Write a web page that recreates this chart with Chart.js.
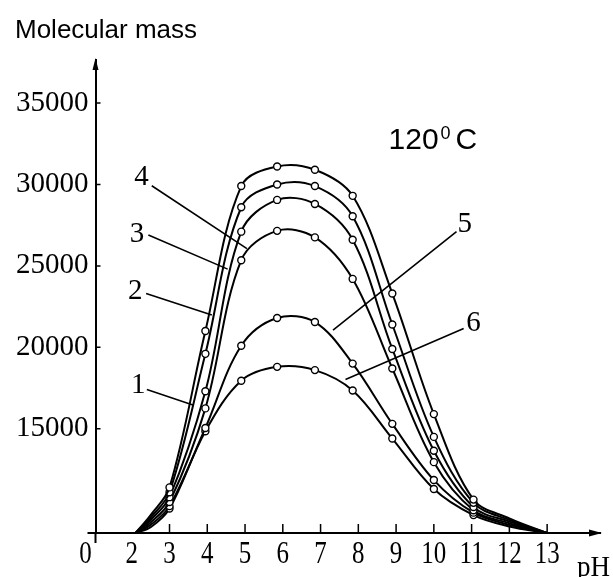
<!DOCTYPE html>
<html>
<head>
<meta charset="utf-8">
<script src="https://cdn.jsdelivr.net/npm/chart.js@4.4.1/dist/chart.umd.min.js"></script>
<style>
  html, body { margin: 0; padding: 0; background: #fff; }
  #wrap { width: 613px; height: 577px; }
</style>
</head>
<body>
<div id="wrap"><canvas id="myChart" width="613" height="577"></canvas></div>
<script>
// pH of each reading; the two first and two last are only the curve ends (no circle)
const phValues = [2.1, 2.5, 3, 3.95, 4.9, 5.85, 6.85, 7.85, 8.9, 10, 11.05, 12, 13];
const measured = [false, false, true, true, true, true, true, true, true, true, true, false, false];

// molecular mass, one array per curve
const curve1 = [8600, 9700, 11400, 21000, 29900, 31100, 30900, 29300, 23300, 15900, 10650, 9500, 8600];
const curve2 = [8600, 9550, 11100, 19600, 28600, 30000, 29900, 28050, 21400, 14500, 10450, 9400, 8600];
const curve3 = [8600, 9400, 10800, 17300, 27100, 29050, 28800, 26600, 19900, 13650, 10200, 9300, 8600];
const curve4 = [8600, 9250, 10500, 16250, 25350, 27150, 26750, 24200, 18700, 12950, 10000, 9200, 8600];
const curve5 = [8600, 9100, 10250, 15050, 20100, 21800, 21550, 19000, 15300, 11850, 9850, 9100, 8600];
const curve6 = [8600, 8950, 10100, 14850, 17950, 18800, 18600, 17350, 14400, 11300, 9700, 9000, 8600];

// axis ticks
const yTicks = [15000, 20000, 25000, 30000, 35000];
const xTicks = [2, 3, 4, 5, 6, 7, 8, 9, 10, 11, 12, 13];
const xTickMarks = [3, 4, 5, 6, 7, 8, 9, 10, 11, 12, 13];

// curve numbers and their leader lines (pH, mass)
const labelText = ['1', '2', '3', '4', '5', '6'];
const labelPh = [2.17, 2.09, 2.14, 2.26, 10.82, 11.05];
const labelVal = [17830, 23600, 27100, 30580, 27690, 21640];
const leaderFromPh = [2.40, 2.38, 2.44, 2.53, 10.60, 10.79];
const leaderFromVal = [17410, 23310, 26890, 29920, 27100, 21160];
const leaderToPh = [3.64, 4.12, 4.54, 5.05, 7.33, 7.66];
const leaderToVal = [16450, 21980, 24800, 26060, 21060, 18030];

const tempPh = 8.8;
const tempVal = 32175;

const allCurves = [curve1, curve2, curve3, curve4, curve5, curve6];

const datasets = allCurves.map((vals, i) => ({
    label: 'Curve ' + labelText[i],
    data: vals.map((v, j) => ({ x: phValues[j], y: v })),
    borderColor: '#000',
    borderWidth: 2,
    backgroundColor: '#fff',
    pointBackgroundColor: '#fff',
    pointBorderColor: '#000',
    pointBorderWidth: 1.4,
    pointRadius: c => measured[c.dataIndex] ? 3.5 : 0,
    tension: 0.35,
    fill: false,
    clip: false
}));

// Axis arrows, inner tick marks, condensed x labels and text notes
const decorations = {
    id: 'decorations',
    afterDraw(chart) {
        const { ctx, chartArea } = chart;
        const x = chart.scales.x, y = chart.scales.y;
        const ox = chartArea.left, oy = chartArea.bottom;
        ctx.save();
        ctx.strokeStyle = '#000';
        ctx.fillStyle = '#000';
        ctx.lineWidth = 2;

        ctx.beginPath();
        ctx.moveTo(ox - 8, oy); ctx.lineTo(ox, oy);
        ctx.moveTo(ox, oy); ctx.lineTo(ox, oy + 10);
        ctx.stroke();

        // arrow heads
        ctx.beginPath();
        ctx.moveTo(ox, chartArea.top - 2);
        ctx.lineTo(ox - 3, chartArea.top + 10);
        ctx.lineTo(ox + 3, chartArea.top + 10);
        ctx.closePath();
        ctx.fill();
        ctx.beginPath();
        ctx.moveTo(chartArea.right + 2, oy);
        ctx.lineTo(chartArea.right - 11, oy - 3.5);
        ctx.lineTo(chartArea.right - 11, oy + 3.5);
        ctx.closePath();
        ctx.fill();

        ctx.lineWidth = 1.5;
        ctx.beginPath();
        yTicks.forEach(v => {
            const py = y.getPixelForValue(v);
            ctx.moveTo(ox, py); ctx.lineTo(ox + 5, py);
        });
        xTickMarks.forEach(v => {
            const px = x.getPixelForValue(v);
            ctx.moveTo(px, oy); ctx.lineTo(px, oy - 9);
        });
        ctx.stroke();

        // x labels (tall, narrow digits like the scan)
        ctx.font = '32px "Liberation Serif"';
        ctx.textAlign = 'center';
        ctx.textBaseline = 'alphabetic';
        const condensed = (txt, px, py, sx) => {
            ctx.save();
            ctx.translate(px, py);
            ctx.scale(sx, 1);
            ctx.fillText(txt, 0, 0);
            ctx.restore();
        };
        xTicks.forEach(v => condensed(String(v), x.getPixelForValue(v), oy + 30, 0.78));
        condensed('0', ox - 10, oy + 30, 0.78);
        ctx.textAlign = 'left';
        ctx.font = '30px "Liberation Serif"';
        condensed('pH', chartArea.right - 23, oy + 43, 0.9);

        // leader lines
        ctx.lineWidth = 1.6;
        ctx.beginPath();
        labelText.forEach((t, i) => {
            ctx.moveTo(x.getPixelForValue(leaderFromPh[i]), y.getPixelForValue(leaderFromVal[i]));
            ctx.lineTo(x.getPixelForValue(leaderToPh[i]), y.getPixelForValue(leaderToVal[i]));
        });
        ctx.stroke();

        ctx.font = '29px "Liberation Serif"';
        ctx.textAlign = 'center';
        labelText.forEach((t, i) => {
            ctx.fillText(t, x.getPixelForValue(labelPh[i]), y.getPixelForValue(labelVal[i]) + 10);
        });

        // temperature note
        ctx.textAlign = 'left';
        let tx = x.getPixelForValue(tempPh);
        const ty = y.getPixelForValue(tempVal);
        ctx.font = '30px "Liberation Sans"';
        ctx.fillText('120', tx, ty);
        tx += ctx.measureText('120').width + 2;
        ctx.font = '18px "Liberation Sans"';
        ctx.fillText('0', tx, ty - 10);
        tx += ctx.measureText('0').width + 5;
        ctx.font = '30px "Liberation Sans"';
        ctx.fillText('C', tx, ty);

        // axis title
        ctx.font = '26px "Liberation Sans"';
        ctx.fillText('Molecular mass', 15, 38);

        ctx.restore();
    }
};

const ctx = document.getElementById('myChart').getContext('2d');
const moleChart = new Chart(ctx, {
    type: 'line',
    data: { datasets: datasets },
    options: {
        responsive: false,
        animation: false,
        devicePixelRatio: 1,
        layout: { padding: { top: 60, right: 13, bottom: 0, left: 0 } },
        plugins: {
            legend: { display: false },
            tooltip: { enabled: false }
        },
        scales: {
            x: {
                type: 'linear',
                min: 1.04,
                max: 14.4,
                afterBuildTicks: s => { s.ticks = xTicks.map(v => ({ value: v })); },
                ticks: { display: false },
                grid: { display: true, drawOnChartArea: false, drawTicks: false },
                border: { display: true, color: '#000', width: 2 },
                afterFit: s => { s.height = 44; }
            },
            y: {
                type: 'linear',
                min: 8600,
                max: 37640,
                afterBuildTicks: s => { s.ticks = yTicks.map(v => ({ value: v })); },
                ticks: {
                    color: '#000',
                    font: { family: 'Liberation Serif', size: 29 },
                    padding: 7,
                    callback: v => String(v)
                },
                grid: { display: true, drawOnChartArea: false, drawTicks: false },
                border: { display: true, color: '#000', width: 2 },
                afterFit: s => { s.width = 95.5; }
            }
        }
    },
    plugins: [decorations]
});
</script>
</body>
</html>
